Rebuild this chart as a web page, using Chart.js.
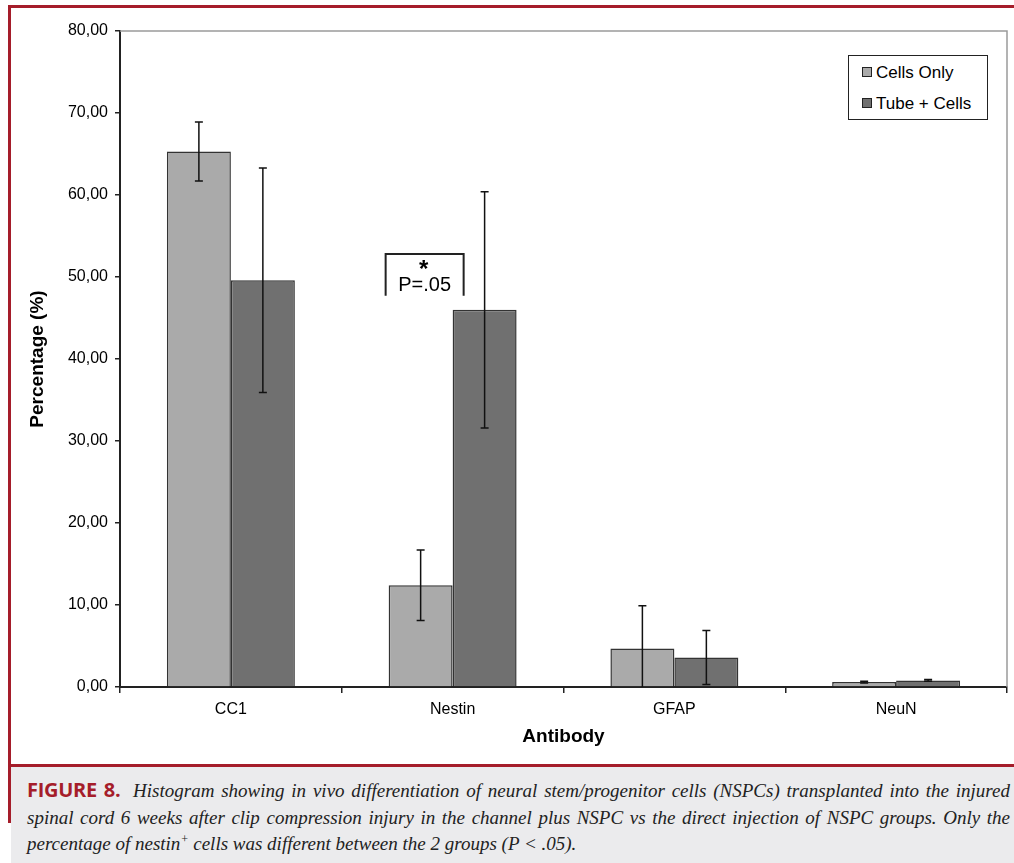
<!DOCTYPE html>
<html>
<head>
<meta charset="utf-8">
<script src="https://cdn.jsdelivr.net/npm/chart.js@4.4.1/dist/chart.umd.min.js"></script>
<style>
  html, body { margin: 0; padding: 0; background: #fff; }
  #page { position: relative; width: 1014px; height: 863px; overflow: hidden; background: #fff; }
  #chart-wrap { position: absolute; left: 0; top: 0; width: 1014px; height: 765px; }
  .frame-top { position: absolute; left: 8px; top: 5px; width: 1006px; height: 3px; background: #a51d2a; }
  .frame-left { position: absolute; left: 8px; top: 5px; width: 3px; height: 818px; background: #a51d2a; }
  .frame-mid { position: absolute; left: 8px; top: 764px; width: 1006px; height: 3px; background: #a51d2a; }
  .caption {
    position: absolute; left: 11px; top: 767px; width: 1003px; height: 96px;
    background: #ebebed; box-sizing: border-box; padding: 10px 4px 0 16px;
    font-family: "Liberation Serif", "DejaVu Serif", serif; font-style: italic;
    font-size: 19px; line-height: 26.5px; color: #222;
  }
  .caption .ln { white-space: nowrap; }
  .caption .just { text-align: justify; text-align-last: justify; }
  .caption b {
    font-family: "Open Sans", "Liberation Sans", sans-serif; font-style: normal;
    font-weight: 700; color: #a51d2a; font-size: 20px; letter-spacing: -0.3px; margin-right: 6px;
  }
  .caption sup { font-size: 12px; vertical-align: 7px; line-height: 0; }
  .legend {
    position: absolute; left: 848px; top: 55px; width: 140px; height: 65px;
    box-sizing: border-box; border: 1.5px solid #222; background: #fff;
    font-family: "Liberation Sans", Arial, sans-serif; font-size: 17px; color: #000;
  }
  .legend .item { position: absolute; left: 13px; white-space: nowrap; }
  .legend .sw { display: inline-block; width: 8px; height: 8px; border: 1px solid #222; margin-right: 4px; vertical-align: 1px; }
</style>
</head>
<body>
<div id="page">
  <div id="chart-wrap"><canvas id="chart"></canvas></div>
  <div class="legend">
    <div class="item" style="top:7px"><span class="sw" style="background:#aaaaaa"></span>Cells Only</div>
    <div class="item" style="top:38px"><span class="sw" style="background:#707070"></span>Tube + Cells</div>
  </div>
  <div class="frame-top"></div>
  <div class="frame-left"></div>
  <div class="frame-mid"></div>
  <div class="caption">
    <div class="ln just"><b>FIGURE 8.</b> Histogram showing in vivo differentiation of neural stem/progenitor cells (NSPCs) transplanted into the injured</div>
    <div class="ln just">spinal cord 6 weeks after clip compression injury in the channel plus NSPC vs the direct injection of NSPC groups. Only the</div>
    <div class="ln">percentage of nestin<sup>+</sup> cells was different between the 2 groups (P &lt; .05).</div>
  </div>
</div>
<script>
// values
const antibodies = ['CC1', 'Nestin', 'GFAP', 'NeuN'];
const cellsOnly = [65.3, 12.4, 4.7, 0.6];
const cellsOnlyErr = [3.6, 4.3, 5.2, 0.1];
const tubeCells = [49.6, 46.0, 3.6, 0.8];
const tubeCellsErr = [13.7, 14.4, 3.3, 0.1];
const yTicks = [0, 10, 20, 30, 40, 50, 60, 70, 80];

const FONT = '"Liberation Sans", Arial, sans-serif';

const errorBars = {
  id: 'errorBars',
  afterDatasetsDraw(chart) {
    const ctx = chart.ctx;
    const y = chart.scales.y;
    const errs = [cellsOnlyErr, tubeCellsErr];
    ctx.save();
    ctx.strokeStyle = '#111';
    ctx.lineWidth = 1.5;
    chart.data.datasets.forEach((ds, i) => {
      chart.getDatasetMeta(i).data.forEach((bar, j) => {
        const v = ds.data[j], e = errs[i][j];
        const top = y.getPixelForValue(v + e);
        const lo = v - e;
        const bot = y.getPixelForValue(Math.max(lo, 0));
        ctx.beginPath();
        ctx.moveTo(bar.x, top); ctx.lineTo(bar.x, bot);
        ctx.moveTo(bar.x - 4, top); ctx.lineTo(bar.x + 4, top);
        if (lo >= 0) { ctx.moveTo(bar.x - 4, bot); ctx.lineTo(bar.x + 4, bot); }
        ctx.stroke();
      });
    });
    ctx.restore();
  }
};

const plotFrame = {
  id: 'plotFrame',
  beforeDatasetsDraw(chart) {
    const { ctx, chartArea: a } = chart;
    ctx.save();
    ctx.strokeStyle = '#9a9a9a';
    ctx.lineWidth = 1.5;
    ctx.beginPath();
    ctx.moveTo(a.left, a.top);
    ctx.lineTo(a.right, a.top);
    ctx.lineTo(a.right, a.bottom);
    ctx.stroke();
    ctx.restore();
  }
};

// significance bracket over the Nestin group
const sigBracket = {
  id: 'sigBracket',
  afterDraw(chart) {
    const ctx = chart.ctx;
    const y = chart.scales.y;
    const bar = chart.getDatasetMeta(0).data[1];
    const x0 = bar.x - 35, x1 = bar.x + 43;
    const yt = y.getPixelForValue(52.8), yb = y.getPixelForValue(47.7);
    ctx.save();
    ctx.strokeStyle = '#222';
    ctx.lineWidth = 2;
    ctx.beginPath();
    ctx.moveTo(x0, yb); ctx.lineTo(x0, yt); ctx.lineTo(x1, yt); ctx.lineTo(x1, yb);
    ctx.stroke();
    ctx.fillStyle = '#000';
    ctx.textAlign = 'center';
    ctx.textBaseline = 'middle';
    ctx.font = 'bold 24px ' + FONT;
    ctx.fillText('*', (x0 + x1) / 2 - 1, yt + 16);
    ctx.font = '20px ' + FONT;
    ctx.fillText('P=.05', (x0 + x1) / 2, yt + 31);
    ctx.restore();
  }
};

new Chart(document.getElementById('chart'), {
  type: 'bar',
  data: {
    labels: antibodies,
    datasets: [
      { label: 'Cells Only', data: cellsOnly, backgroundColor: '#aaaaaa', borderColor: '#333', borderWidth: 1.5 },
      { label: 'Tube + Cells', data: tubeCells, backgroundColor: '#707070', borderColor: '#333', borderWidth: 1.5 }
    ]
  },
  options: {
    responsive: true,
    maintainAspectRatio: false,
    animation: false,
    events: [],
    layout: { padding: { top: 31, right: 7, bottom: 0, left: 0 } },
    datasets: { bar: { categoryPercentage: 0.577, barPercentage: 1.0 } },
    plugins: { legend: { display: false }, tooltip: { enabled: false } },
    scales: {
      x: {
        offset: true,
        grid: { offset: true, drawOnChartArea: false, drawTicks: true, tickLength: 6, color: '#222', lineWidth: 1.5 },
        border: { color: '#222', width: 2 },
        ticks: { color: '#000', font: { family: FONT, size: 16 }, padding: 7 },
        title: { display: true, text: 'Antibody', color: '#000', font: { family: FONT, size: 19, weight: 'bold' }, padding: { top: 0, bottom: 16.6 } },
        afterFit(scale) { scale.height = 78; }
      },
      y: {
        min: 0, max: 80,
        afterBuildTicks(scale) { scale.ticks = yTicks.map(v => ({ value: v })); },
        grid: { drawOnChartArea: false, drawTicks: true, tickLength: 5, color: '#222', lineWidth: 1.5 },
        border: { color: '#222', width: 2 },
        ticks: { color: '#000', font: { family: FONT, size: 16 }, padding: 7, callback: v => v.toFixed(2).replace('.', ',') },
        title: { display: true, text: 'Percentage (%)', color: '#000', font: { family: FONT, size: 19, weight: 'bold' }, padding: { top: 26, bottom: 0 } },
        afterFit(scale) { scale.width = 120; }
      }
    }
  },
  plugins: [plotFrame, errorBars, sigBracket]
});
</script>
</body>
</html>
